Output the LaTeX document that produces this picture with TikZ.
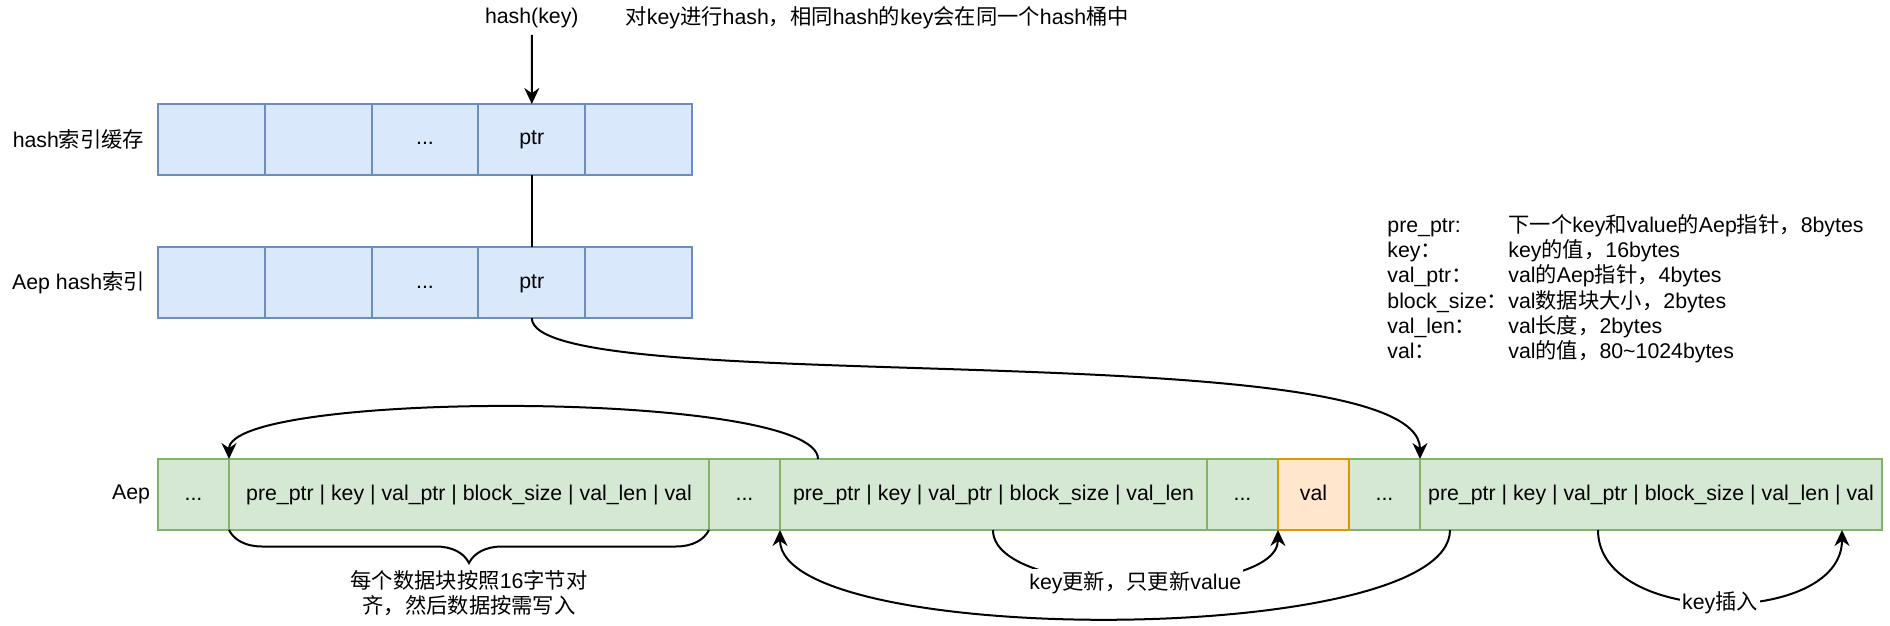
\documentclass[tikz,border=0pt]{standalone}
\usepackage{fontspec}
\setmainfont{Liberation Sans}
\newfontfamily\cjk{Noto Sans CJK SC}
\usepackage{tikz}
\usetikzlibrary{arrows.meta}
\usetikzlibrary{positioning}
\usetikzlibrary{decorations.pathreplacing}

\definecolor{hashfill}{HTML}{DAE8FC}
\definecolor{hashline}{HTML}{6C8EBF}
\definecolor{aepfill}{HTML}{D5E8D4}
\definecolor{aepline}{HTML}{82B366}
\definecolor{valfill}{HTML}{FFE6CC}
\definecolor{valline}{HTML}{D79B00}

\tikzset{
  hashcell/.style={draw=hashline, fill=hashfill, line width=1pt, minimum width=53.4pt, minimum height=35.5pt, inner sep=0pt, outer sep=0pt, text height=7.7pt, text depth=2.2pt},
  aepcell/.style={draw=aepline, fill=aepfill, line width=1pt, minimum width=35.5pt, minimum height=35.5pt, inner sep=0pt, outer sep=0pt, text height=7.7pt, text depth=2.2pt},
  valcell/.style={aepcell, draw=valline, fill=valfill},
  link/.style={line width=1pt, -{Stealth[length=8pt,width=7.5pt]}},
  tag/.style={fill=white, inner sep=1pt},
}

\begin{document}
\begin{tikzpicture}[x=0.5pt,y=-0.5pt,font=\fontsize{10.65}{12.65}\selectfont]
     \useasboundingbox (0,0) rectangle (1890,626);

     % hash index cache
     \node[hashcell] (c1) at (211.4,139.5) {};
     \node[hashcell, right=0pt of c1] (c2) {};
     \node[hashcell, right=0pt of c2] (c3) {...};
     \node[hashcell, right=0pt of c3] (c4) {ptr};
     \node[hashcell, right=0pt of c4] (c5) {};
     \node (lcache) at (78.5,139.5) {hash{\cjk 索引缓存}};

     % Aep hash index
     \node[hashcell] (x1) at (211.4,282.5) {};
     \node[hashcell, right=0pt of x1] (x2) {};
     \node[hashcell, right=0pt of x2] (x3) {...};
     \node[hashcell, right=0pt of x3] (x4) {ptr};
     \node[hashcell, right=0pt of x4] (x5) {};
     \node (lindex) at (78.5,282.5) {Aep hash{\cjk 索引}};

     \node (hk) at (531.8,18) {hash(key)};
     \node[anchor=west] (hnote) at (618.6,18) {{\cjk 对}key{\cjk 进行}hash{\cjk ，相同}hash{\cjk 的}key{\cjk 会在同一个}hash{\cjk 桶中}};
     \draw[link] (hk.south) -- (c4.north);
     \draw[line width=1pt] (c4.south) -- (x4.north);

     % Aep blocks
     \node[aepcell] (b1) at (193.5,494.5) {...};
     \node[aepcell, right=0pt of b1, minimum width=240pt] (b2) {pre\_ptr | key | val\_ptr | block\_size | val\_len | val};
     \node[aepcell, right=0pt of b2] (b3) {...};
     \node[aepcell, right=0pt of b3, minimum width=213.5pt] (b4) {pre\_ptr | key | val\_ptr | block\_size | val\_len};
     \node[aepcell, right=0pt of b4] (b5) {...};
     \node[aepcell, right=35.5pt of b5] (b7) {...};
     \node[aepcell, right=0pt of b7, minimum width=231pt] (b8) {pre\_ptr | key | val\_ptr | block\_size | val\_len | val};
     \node[valcell, right=0pt of b5] (b6) {val};
     \node (laep) at (131,494.5) {Aep};

     % legend
     \node[anchor=base west, inner sep=0pt] (g1) at (1387,232) {\makebox[60.5pt][l]{pre\_ptr:}{\cjk 下一个}key{\cjk 和}value{\cjk 的}Aep{\cjk 指针，}8bytes};
     \node[anchor=base west, inner sep=0pt] (g2) at (1387,257.4) {\makebox[60.5pt][l]{key{\cjk ：}}key{\cjk 的值，}16bytes};
     \node[anchor=base west, inner sep=0pt] (g3) at (1387,282.7) {\makebox[60.5pt][l]{val\_ptr{\cjk ：}}val{\cjk 的}Aep{\cjk 指针，}4bytes};
     \node[anchor=base west, inner sep=0pt] (g4) at (1387,308) {\makebox[60.5pt][l]{block\_size{\cjk ：}}val{\cjk 数据块大小，}2bytes};
     \node[anchor=base west, inner sep=0pt] (g5) at (1387,333.3) {\makebox[60.5pt][l]{val\_len{\cjk ：}}val{\cjk 长度，}2bytes};
     \node[anchor=base west, inner sep=0pt] (g6) at (1387,358.6) {\makebox[60.5pt][l]{val{\cjk ：}}val{\cjk 的值，}80\textasciitilde1024bytes};

     % pointers
     \draw[link] (x4.south) .. controls +(0,83) and +(0,-129) .. (b8.north west);

     \coordinate (prev) at (818,459);
     \draw[link] (prev) .. controls (818,390) and (229,390) .. (b2.north west);

     \coordinate (back) at (1450,530);
     \draw[link] (back) .. controls (1450,648) and (780,648) .. (b4.south west);

     \coordinate (upd0) at (993,530);
     \draw[link] (upd0) .. controls (993,600) and (1277.7,600) .. (b6.south west) node[tag, pos=0.5] (upd) {key{\cjk 更新，只更新}value};

     \coordinate (ins0) at (1598,530);
     \coordinate (ins1) at (1842,530);
     \draw[link] (ins0) .. controls (1598,627) and (1842,627) .. (ins1) node[tag, pos=0.5] (ins) {key{\cjk 插入}};

     % alignment brace
     \draw[line width=1pt, decorate, decoration={brace, mirror, amplitude=16.5pt}] (b2.south west) -- (b2.south east);
     \node[align=center] (align) at (469,593) {{\cjk 每个数据块按照}16{\cjk 字节对}\\{\cjk 齐，然后数据按需写入}};
\end{tikzpicture}
\end{document}
